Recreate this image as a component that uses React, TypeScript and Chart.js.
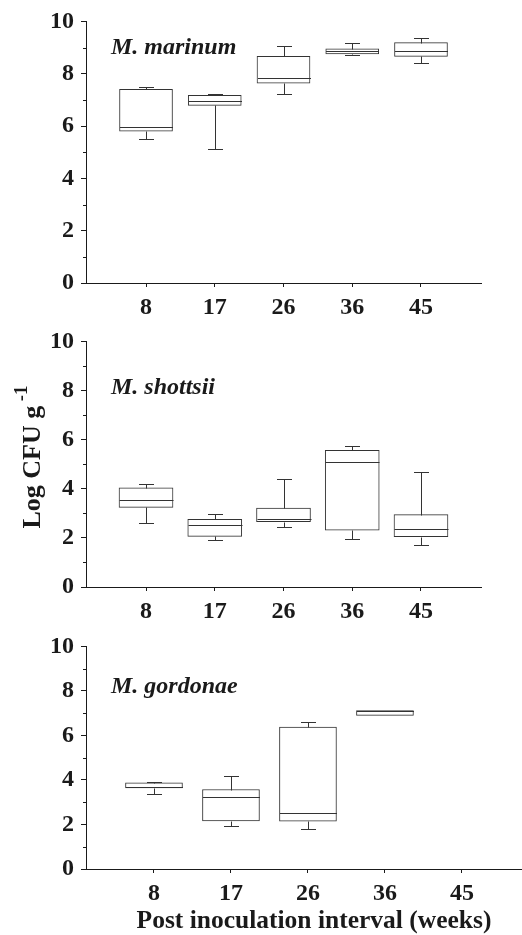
import React, { useEffect, useRef } from "react";
import { Chart, registerables } from "chart.js";

Chart.register(...registerables);

// ---------- data ----------
const WEEKS = ["8", "17", "26", "36", "45"];
const Y_MAJOR = [0, 2, 4, 6, 8, 10];
const Y_MINOR = [1, 3, 5, 7, 9];

const MARINUM_MIN = [5.49, 5.14, 7.23, 8.71, 8.4];
const MARINUM_Q1 = [5.8, 6.79, 7.64, 8.76, 8.66];
const MARINUM_MED = [5.97, 6.94, 7.84, 8.85, 8.85];
const MARINUM_Q3 = [7.4, 7.17, 8.66, 8.95, 9.19];
const MARINUM_MAX = [7.49, 7.23, 9.07, 9.19, 9.37];

const SHOTTSII_MIN = [2.6, 1.92, 2.43, 1.94, 1.73];
const SHOTTSII_Q1 = [3.24, 2.06, 2.66, 2.31, 2.05];
const SHOTTSII_MED = [3.55, 2.54, 2.77, 5.07, 2.36];
const SHOTTSII_Q3 = [4.04, 2.76, 3.21, 5.56, 2.95];
const SHOTTSII_MAX = [4.19, 2.97, 4.4, 5.76, 4.7];

const GORDONAE_MIN = [3.38, 1.92, 1.81, 6.9, null];
const GORDONAE_Q1 = [3.64, 2.16, 2.15, 6.9, null];
const GORDONAE_MED = [3.67, 3.23, 2.51, 7.12, null];
const GORDONAE_Q3 = [3.87, 3.57, 6.37, 7.12, null];
const GORDONAE_MAX = [3.92, 4.17, 6.62, 7.12, null];

const NAMES = ["M. marinum", "M. shottsii", "M. gordonae"];
const Y_TITLE = "Log CFU g";
const Y_TITLE_SUP = "-1";
const X_TITLE = "Post inoculation interval (weeks)";

type Panel = {
  name: string;
  min: (number | null)[];
  q1: (number | null)[];
  med: (number | null)[];
  q3: (number | null)[];
  max: (number | null)[];
  top: number;
  height: number;
  padTop: number;
  xScaleH: number;
  padRight: number;
  xMin: number;
  xMax: number;
  barW: number;
  labelY: number;
  yTitle: boolean;
  xTitle: boolean;
};

const PANELS: Panel[] = [
  {
    name: NAMES[0], min: MARINUM_MIN, q1: MARINUM_Q1, med: MARINUM_MED, q3: MARINUM_Q3, max: MARINUM_MAX,
    top: 0, height: 320, padTop: 19, xScaleH: 37, padRight: 41, xMin: -0.873, xMax: 4.873, barW: 53, labelY: 9.0,
    yTitle: false, xTitle: false,
  },
  {
    name: NAMES[1], min: SHOTTSII_MIN, q1: SHOTTSII_Q1, med: SHOTTSII_MED, q3: SHOTTSII_Q3, max: SHOTTSII_MAX,
    top: 320, height: 305, padTop: 15, xScaleH: 38, padRight: 41, xMin: -0.873, xMax: 4.873, barW: 54, labelY: 8.1,
    yTitle: true, xTitle: false,
  },
  {
    name: NAMES[2], min: GORDONAE_MIN, q1: GORDONAE_Q1, med: GORDONAE_MED, q3: GORDONAE_Q3, max: GORDONAE_MAX,
    top: 625, height: 310, padTop: 16, xScaleH: 66, padRight: 0, xMin: -0.883, xMax: 4.78, barW: 57, labelY: 8.2,
    yTitle: false, xTitle: true,
  },
];

const INK = "#1a1a1a";
const BOX = "#333333";
const FONT = '"Liberation Serif", "Times New Roman", serif';

function BoxPanel({ p }: { p: Panel }) {
  const ref = useRef<HTMLCanvasElement | null>(null);
  useEffect(() => {
    if (!ref.current) return;
    const data = WEEKS.map((_, i) =>
      p.q1[i] == null ? null : { x: i, y: [p.q1[i] as number, p.q3[i] as number] }
    ).filter((d) => d !== null);

    const boxPlugin = {
      id: "boxWhiskers",
      afterDatasetsDraw(chart: any) {
        const ctx = chart.ctx;
        const ys = chart.scales.y;
        const xs = chart.scales.x;
        ctx.save();
        ctx.strokeStyle = BOX;
        ctx.lineWidth = 1;
        WEEKS.forEach((_, i) => {
          if (p.q1[i] == null) return;
          const x = Math.round(xs.getPixelForValue(i)) + 0.5;
          const hw = p.barW / 2;
          const cap = 7.5;
          const py = (v: number) => Math.round(ys.getPixelForValue(v)) + 0.5;
          const yMed = py(p.med[i] as number);
          const yQ1 = py(p.q1[i] as number);
          const yQ3 = py(p.q3[i] as number);
          const yMin = py(p.min[i] as number);
          const yMax = py(p.max[i] as number);
          ctx.beginPath();
          ctx.moveTo(x - hw, yMed);
          ctx.lineTo(x + hw, yMed);
          if (yMax < yQ3) {
            ctx.moveTo(x, yQ3);
            ctx.lineTo(x, yMax);
            ctx.moveTo(x - cap, yMax);
            ctx.lineTo(x + cap, yMax);
          }
          if (yMin > yQ1) {
            ctx.moveTo(x, yQ1);
            ctx.lineTo(x, yMin);
            ctx.moveTo(x - cap, yMin);
            ctx.lineTo(x + cap, yMin);
          }
          ctx.stroke();
        });
        ctx.restore();
      },
      afterDraw(chart: any) {
        const ctx = chart.ctx;
        const ys = chart.scales.y;
        const area = chart.chartArea;
        ctx.save();
        // minor ticks
        ctx.strokeStyle = INK;
        ctx.lineWidth = 1;
        ctx.beginPath();
        Y_MINOR.forEach((v) => {
          const y = Math.round(ys.getPixelForValue(v)) + 0.5;
          ctx.moveTo(area.left - 3, y);
          ctx.lineTo(area.left, y);
        });
        ctx.stroke();
        // panel label
        ctx.fillStyle = INK;
        ctx.font = `italic bold 24px ${FONT}`;
        ctx.textBaseline = "middle";
        ctx.textAlign = "left";
        ctx.fillText(p.name, area.left + 25, ys.getPixelForValue(p.labelY));
        // y title
        if (p.yTitle) {
          ctx.save();
          ctx.translate(33, 456 - p.top);
          ctx.rotate(-Math.PI / 2);
          ctx.font = `bold 26px ${FONT}`;
          const w1 = ctx.measureText(Y_TITLE + " ").width;
          ctx.font = `bold 19px ${FONT}`;
          const w2 = ctx.measureText(Y_TITLE_SUP).width;
          const start = -(w1 + w2) / 2;
          ctx.font = `bold 26px ${FONT}`;
          ctx.textAlign = "left";
          ctx.fillText(Y_TITLE, start, 0);
          ctx.font = `bold 19px ${FONT}`;
          ctx.fillText(Y_TITLE_SUP, start + w1 - 2, -11);
          ctx.restore();
        }
        if (p.xTitle) {
          ctx.font = `bold 25.5px ${FONT}`;
          ctx.textAlign = "center";
          ctx.textBaseline = "middle";
          ctx.fillText(X_TITLE, 314, 921 - p.top);
        }
        ctx.restore();
      },
    };

    const chart = new Chart(ref.current, {
      type: "bar",
      data: {
        datasets: [
          {
            data: data as any,
            backgroundColor: "#ffffff",
            borderColor: BOX,
            borderWidth: 1,
            borderSkipped: false,
            barThickness: p.barW,
          },
        ],
      },
      options: {
        animation: false,
        responsive: false,
        layout: { padding: { top: p.padTop, right: p.padRight, left: 0, bottom: 0 } },
        plugins: { legend: { display: false }, tooltip: { enabled: false }, title: { display: false } },
        scales: {
          x: {
            type: "linear",
            offset: false,
            min: p.xMin,
            max: p.xMax,
            grid: { offset: false, drawOnChartArea: false, drawTicks: true, tickLength: 4, tickColor: INK },
            border: { display: true, color: INK, width: 1 },
            afterBuildTicks: (s: any) => {
              s.ticks = WEEKS.map((_, i) => ({ value: i }));
            },
            afterFit: (s: any) => {
              s.height = p.xScaleH;
            },
            ticks: {
              autoSkip: false,
              maxRotation: 0,
              padding: 6,
              color: INK,
              font: { family: FONT, size: 24, weight: "bold" },
              callback: (v: any) => WEEKS[Number(v)] ?? "",
            },
          },
          y: {
            type: "linear",
            min: 0,
            max: 10,
            afterBuildTicks: (s: any) => {
              s.ticks = Y_MAJOR.map((v) => ({ value: v }));
            },
            afterFit: (s: any) => {
              s.width = 86;
            },
            grid: { drawOnChartArea: false, drawTicks: true, tickLength: 5, tickColor: INK },
            border: { display: true, color: INK, width: 1 },
            ticks: {
              padding: 7,
              color: INK,
              font: { family: FONT, size: 24, weight: "bold" },
              callback: (v: any) => String(v),
            },
          },
        },
      },
      plugins: [boxPlugin],
    } as any);
    return () => chart.destroy();
  }, [p]);
  return (
    <canvas
      ref={ref}
      width={522}
      height={p.height}
      style={{ position: "absolute", left: 0, top: p.top, width: 522, height: p.height }}
    />
  );
}

export default function App() {
  return (
    <div style={{ position: "absolute", left: 0, top: 0, width: 522, height: 935, background: "#fff" }}>
      {PANELS.map((p) => (
        <BoxPanel key={p.name} p={p} />
      ))}
    </div>
  );
}
